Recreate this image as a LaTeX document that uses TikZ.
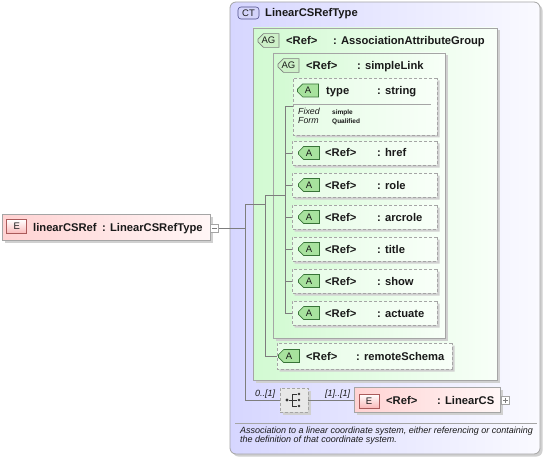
\documentclass[tikz,border=0pt]{standalone}
\usepackage{fontspec}
\setmainfont{Liberation Sans}
\usetikzlibrary{shapes.misc,shadows}

\definecolor{framegray}{RGB}{165,165,165}
\definecolor{shadowgray}{RGB}{208,208,208}
\definecolor{linegray}{RGB}{125,125,125}
\definecolor{ctleft}{RGB}{214,214,255}
\definecolor{ctright}{RGB}{250,250,255}
\definecolor{agleft}{RGB}{210,250,210}
\definecolor{agright}{RGB}{248,255,248}
\definecolor{attleft}{RGB}{230,252,230}
\definecolor{eleft}{RGB}{255,210,210}
\definecolor{eright}{RGB}{255,246,246}
\definecolor{abadge}{RGB}{168,226,158}
\definecolor{abadgeline}{RGB}{55,115,55}
\definecolor{agbadge}{RGB}{205,240,200}
\definecolor{ctbadge}{RGB}{212,212,250}
\definecolor{ctbadgeline}{RGB}{80,80,140}
\definecolor{ebadge}{RGB}{250,185,185}
\definecolor{ebadgeline}{RGB}{170,90,90}
\definecolor{compfill}{RGB}{232,232,232}
\definecolor{txt}{RGB}{25,25,25}

\tikzset{
  box/.style={rectangle, inner sep=0pt, draw=framegray, line width=0.8pt},
  boxshadow/.style={drop shadow={shadow xshift=2.5pt, shadow yshift=-2.5pt, fill=shadowgray, opacity=1}},
  ctbox/.style={box, rounded corners=6pt, left color=ctleft, right color=ctright, boxshadow},
  groupbox/.style={box, left color=agleft, right color=agright, boxshadow},
  elbox/.style={box, left color=eleft, right color=eright, boxshadow},
  attbox/.style={chamfered rectangle, chamfered rectangle corners={north west,south west},
    chamfered rectangle xsep=5pt, chamfered rectangle ysep=5pt, inner sep=0pt,
    draw=framegray, dash pattern=on 3pt off 2pt, line width=0.8pt,
    left color=attleft, right color=agright, boxshadow},
  att/.style={attbox, minimum width=145pt, minimum height=24pt},
  abadge/.style={chamfered rectangle, chamfered rectangle corners={north west,south west},
    chamfered rectangle xsep=2pt, chamfered rectangle ysep=3.5pt, inner sep=0pt,
    minimum width=21pt, minimum height=13pt, draw=abadgeline, line width=0.6pt,
    fill=abadge, font=\fontsize{9.5}{10}\selectfont, text=txt},
  agbadge/.style={abadge, fill=agbadge, draw=linegray},
  ctbadge/.style={rectangle, rounded corners=3pt, inner sep=0pt, minimum width=21pt,
    minimum height=12pt, draw=ctbadgeline, line width=0.6pt, fill=ctbadge,
    font=\fontsize{9.5}{10}\selectfont, text=txt},
  ebadge/.style={rectangle, inner sep=0pt, minimum width=20pt, minimum height=14pt,
    draw=ebadgeline, line width=0.6pt, top color=white, bottom color=ebadge,
    font=\fontsize{9.5}{10}\selectfont, text=txt},
  expander/.style={box, fill=white, line width=0.6pt, minimum width=8pt, minimum height=8pt},
  compbox/.style={box, fill=compfill, dash pattern=on 3pt off 2pt, minimum width=28pt,
    minimum height=24pt, boxshadow},
  lbl/.style={anchor=base west, inner sep=0pt, text=txt,
    font=\fontsize{11.2}{13}\selectfont\bfseries},
  card/.style={anchor=base west, inner sep=0pt, text=txt, font=\fontsize{9}{10}\selectfont\itshape},
  fixlbl/.style={anchor=base west, inner sep=0pt, text=txt, font=\fontsize{8.8}{10}\selectfont\itshape},
  fixval/.style={anchor=base west, inner sep=0pt, text=txt, font=\fontsize{6.5}{8}\selectfont\bfseries},
  desc/.style={anchor=base west, inner sep=0pt, text=txt, font=\fontsize{9}{10}\selectfont\itshape},
  conn/.style={draw=linegray, line width=0.6pt},
  dot/.style={circle, fill=black!80, inner sep=0pt, minimum size=3.2pt}
}

\begin{document}
\begin{tikzpicture}[x=1pt,y=-1pt]
  %%%%% START %%%%%
  \useasboundingbox (0,0) rectangle (545,457);

  % complex type frame
  \node[ctbox, minimum width=310pt, minimum height=452pt] (ct) at (385,228) {};
  \node[ctbadge] (ctBadge) at (248.5,13) {CT};
  \node[lbl] (ctName) at (265,17) {LinearCSRefType};

  % top level element
  \node[elbox, minimum width=208pt, minimum height=26pt] (linearCSRef) at (106,227.5) {};
  \node[ebadge] (linearCSRefE) at (16.7,226.5) {E};
  \node[lbl] (linearCSRefName) at (33,231.5) {linearCSRef};
  \node[lbl] (linearCSRefType) at (102,231.5) {: LinearCSRefType};
  \node[expander] (linearCSRefMin) at (214.5,228.5) {};
  \draw[linegray] ([xshift=1.6pt]linearCSRefMin.west) -- ([xshift=-1.6pt]linearCSRefMin.east);

  % attribute groups
  \node[groupbox, minimum width=244pt, minimum height=352pt] (assocGroup) at (375,204) {};
  \node[agbadge] (assocGroupAG) at (268.5,40.5) {AG};
  \node[lbl] (assocGroupRef) at (286,44.5) {<Ref>};
  \node[lbl] (assocGroupName) at (333,44.5) {: AssociationAttributeGroup};

  \node[groupbox, minimum width=172pt, minimum height=285pt] (simpleLink) at (359,195.5) {};
  \node[agbadge] (simpleLinkAG) at (288.5,65.5) {AG};
  \node[lbl] (simpleLinkRef) at (306,69.5) {<Ref>};
  \node[lbl] (simpleLinkName) at (357,69.5) {: simpleLink};

  % type attribute
  \node[attbox, minimum width=144pt, minimum height=57pt] (type) at (365,106.5) {};
  \node[abadge] (typeA) at (308,90.5) {A};
  \node[lbl] (typeName) at (326,94.5) {type};
  \node[lbl] (typeType) at (377,94.5) {: string};
  \draw[framegray, line width=0.6pt] ([xshift=1pt,yshift=2pt]type.west) -- ([xshift=-6pt,yshift=2pt]type.east);
  \node[fixlbl] (typeFixed) at (298,114.5) {Fixed};
  \node[fixval] (typeFixedVal) at (332,114.5) {simple};
  \node[fixlbl] (typeForm) at (298,124) {Form};
  \node[fixval] (typeFormVal) at (332,124) {Qualified};

  % xlink attributes
  \node[att] (href) at (364.5,153) {};
  \node[abadge] (hrefA) at (309,153) {A};
  \node[lbl] (hrefRef) at (325,157) {<Ref>};
  \node[lbl] (hrefName) at (377,157) {: href};

  \node[att] (role) at (364.5,185) {};
  \node[abadge] (roleA) at (309,185) {A};
  \node[lbl] (roleRef) at (325,189) {<Ref>};
  \node[lbl] (roleName) at (377,189) {: role};

  \node[att] (arcrole) at (364.5,217) {};
  \node[abadge] (arcroleA) at (309,217) {A};
  \node[lbl] (arcroleRef) at (325,221) {<Ref>};
  \node[lbl] (arcroleName) at (377,221) {: arcrole};

  \node[att] (title) at (364.5,249) {};
  \node[abadge] (titleA) at (309,249) {A};
  \node[lbl] (titleRef) at (325,253) {<Ref>};
  \node[lbl] (titleName) at (377,253) {: title};

  \node[att] (show) at (364.5,281) {};
  \node[abadge] (showA) at (309,281) {A};
  \node[lbl] (showRef) at (325,285) {<Ref>};
  \node[lbl] (showName) at (377,285) {: show};

  \node[att] (actuate) at (364.5,313) {};
  \node[abadge] (actuateA) at (309,313) {A};
  \node[lbl] (actuateRef) at (325,317) {<Ref>};
  \node[lbl] (actuateName) at (377,317) {: actuate};

  \node[attbox, minimum width=175pt, minimum height=26pt] (remoteSchema) at (364.5,356) {};
  \node[abadge] (remoteSchemaA) at (289,356) {A};
  \node[lbl] (remoteSchemaRef) at (306,360) {<Ref>};
  \node[lbl] (remoteSchemaName) at (356,360) {: remoteSchema};

  % sequence with LinearCS
  \node[compbox] (seq) at (294,400) {};
  \node[dot] (seqIn) at (287,400) {};
  \node[dot, minimum size=2.8pt] (seqOut1) at (299,394) {};
  \node[dot, minimum size=2.8pt] (seqOut2) at (299,400) {};
  \node[dot, minimum size=2.8pt] (seqOut3) at (299,406) {};
  \draw[black!80, line width=0.7pt] (seqIn) -- (292,400);
  \draw[black!80, line width=0.7pt] (seqOut1) -| (292,406) -- (seqOut3);
  \draw[black!80, line width=0.7pt] (292,400) -- (seqOut2);
  \node[card] (seqCard) at (255,396) {0..[1]};
  \node[card] (linearCSCard) at (325,396) {[1]..[1]};

  \node[elbox, minimum width=146pt, minimum height=25pt] (linearCS) at (427,400) {};
  \node[ebadge] (linearCSE) at (369,401) {E};
  \node[lbl] (linearCSRef) at (386,404) {<Ref>};
  \node[lbl] (linearCSName) at (437,404) {: LinearCS};
  \node[expander] (linearCSPlus) at (505.5,400.5) {};
  \draw[linegray] ([xshift=1.6pt]linearCSPlus.west) -- ([xshift=-1.6pt]linearCSPlus.east);
  \draw[linegray] ([yshift=-1.6pt]linearCSPlus.north) -- ([yshift=1.6pt]linearCSPlus.south);

  % connectors
  \coordinate (attTop) at (285,106.5);
  \coordinate (groupTop) at (265,195);
  \coordinate (trunkTop) at (245,204);
  \draw[conn] (type.west) -- (attTop) -- (attTop |- actuate.west) -- (actuate.west);
  \draw[conn] (attTop |- href.west) -- (href.west);
  \draw[conn] (attTop |- role.west) -- (role.west);
  \draw[conn] (attTop |- arcrole.west) -- (arcrole.west);
  \draw[conn] (attTop |- title.west) -- (title.west);
  \draw[conn] (attTop |- show.west) -- (show.west);
  \draw[conn] (attTop |- groupTop) -- (groupTop) -- (groupTop |- remoteSchema.west) -- (remoteSchema.west);
  \draw[conn] (groupTop |- trunkTop) -- (trunkTop) -- (trunkTop |- seq.west) -- (seq.west);
  \draw[conn] (linearCSRefMin.east) -- (trunkTop |- linearCSRefMin.east);
  \draw[conn] (seq.east) -- (linearCS.west);

  % documentation
  \draw[framegray, line width=0.6pt] (235,423) -- (537,423);
  \node[desc] (ctDoc1) at (240,433.5) {Association to a linear coordinate system, either referencing or containing};
  \node[desc] (ctDoc2) at (240,442.5) {the definition of that coordinate system.};

  %%%%% END %%%%%
\end{tikzpicture}
\end{document}
